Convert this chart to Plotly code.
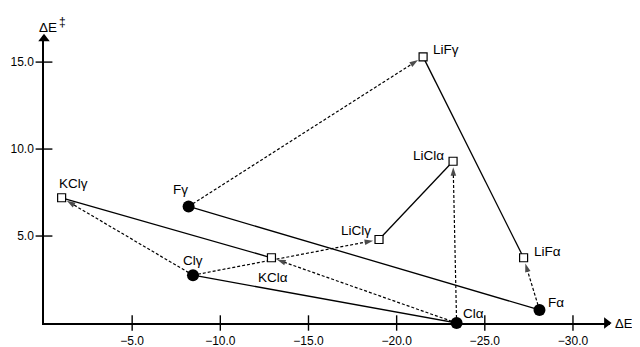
import plotly.graph_objects as go

# ---- data ----
names = ["KClγ", "Fγ", "Clγ", "KClα", "LiClγ", "LiClα", "LiFγ", "LiFα", "Fα", "Clα"]
de = [-1.0, -8.2, -8.45, -12.9, -19.0, -23.2, -21.5, -27.2, -28.1, -23.4]
de_ts = [7.2, 6.7, 2.75, 3.75, 4.8, 9.3, 15.3, 3.75, 0.75, 0.0]
kind = ["sq", "dot", "dot", "sq", "sq", "sq", "sq", "sq", "dot", "dot"]

solid_links = [("Fγ", "Fα"), ("KClγ", "KClα"), ("Clγ", "Clα"), ("LiClγ", "LiClα"), ("LiFγ", "LiFα")]
dashed_links = [("Clγ", "KClγ"), ("Clα", "KClα"), ("Clγ", "LiClγ"), ("Clα", "LiClα"),
                ("Fγ", "LiFγ"), ("Fα", "LiFα")]

x_ticks = [-5, -10, -15, -20, -25, -30]
y_ticks = [5, 10, 15]
X_END, Y_END = -32.1, 16.5

# label offsets (px) per point: (xshift, yshift, xanchor)
label_pos = {
    "KClγ": (-5, 14, "left"), "Fγ": (-8, 17, "center"), "Clγ": (0, 15, "center"),
    "KClα": (2, -20, "center"), "LiClγ": (-6, 9, "right"), "LiClα": (-7, 6, "right"),
    "LiFγ": (8, 7, "left"), "LiFα": (8, 6, "left"), "Fα": (7, 7, "left"), "Clα": (4, 10, "left"),
}

idx = {n: i for i, n in enumerate(names)}
FONT = "Liberation Sans, Arial, sans-serif"

fig = go.Figure()

for a, b in solid_links:
    i, j = idx[a], idx[b]
    fig.add_trace(go.Scatter(x=[de[i], de[j]], y=[de_ts[i], de_ts[j]], mode="lines",
                             line=dict(color="black", width=1.3), hoverinfo="skip",
                             showlegend=False))

for a, b in dashed_links:
    i, j = idx[a], idx[b]
    fig.add_trace(go.Scatter(x=[de[i], de[j]], y=[de_ts[i], de_ts[j]], mode="lines+markers",
                             line=dict(color="black", width=1.2, dash="3px,2px"),
                             marker=dict(symbol=["circle", "arrow"], size=[0, 9],
                                         angleref="previous", standoff=[0, 6],
                                         color="black", line=dict(width=0)),
                             hoverinfo="skip", showlegend=False))

# axis arrowheads
fig.add_trace(go.Scatter(x=[X_END * 0.994], y=[0], mode="markers",
                         marker=dict(symbol="triangle-right", size=10, color="black"),
                         cliponaxis=False, hoverinfo="skip", showlegend=False))
fig.add_trace(go.Scatter(x=[0], y=[Y_END * 0.99], mode="markers",
                         marker=dict(symbol="triangle-up", size=10, color="black"),
                         cliponaxis=False, hoverinfo="skip", showlegend=False))

# tick marks crossing the axes
fig.add_trace(go.Scatter(x=x_ticks, y=[0] * len(x_ticks), mode="markers",
                         marker=dict(symbol="line-ns-open", size=11, color="black",
                                     line=dict(color="black", width=1.4)),
                         cliponaxis=False, hoverinfo="skip", showlegend=False))
fig.add_trace(go.Scatter(x=[0] * len(y_ticks), y=y_ticks, mode="markers",
                         marker=dict(symbol="line-ew-open", size=12, color="black",
                                     line=dict(color="black", width=1.4)),
                         cliponaxis=False, hoverinfo="skip", showlegend=False))

# points
dots = [i for i, k in enumerate(kind) if k == "dot"]
sqs = [i for i, k in enumerate(kind) if k == "sq"]
fig.add_trace(go.Scatter(x=[de[i] for i in dots], y=[de_ts[i] for i in dots], mode="markers",
                         marker=dict(symbol="circle", size=12, color="black"),
                         cliponaxis=False, showlegend=False))
fig.add_trace(go.Scatter(x=[de[i] for i in sqs], y=[de_ts[i] for i in sqs], mode="markers",
                         marker=dict(symbol="square", size=8, color="white",
                                     line=dict(color="black", width=1.2)),
                         cliponaxis=False, showlegend=False))

# point labels
for n, (xs, ys, xa) in label_pos.items():
    i = idx[n]
    fig.add_annotation(x=de[i], y=de_ts[i], text=n, showarrow=False, xanchor=xa, yanchor="middle",
                       xshift=xs, yshift=ys, font=dict(family=FONT, size=13.5, color="black"))

# axis titles
fig.add_annotation(x=1, y=0, xref="paper", yref="y", text="ΔE", showarrow=False, xanchor="left",
                   xshift=3, font=dict(family=FONT, size=13, color="black"))
fig.add_annotation(x=0, y=1, xref="paper", yref="paper", text="ΔE", showarrow=False,
                   xanchor="left", yanchor="middle", xshift=-7, yshift=9,
                   font=dict(family=FONT, size=13.5, color="black"))
fig.add_annotation(x=0, y=1, xref="paper", yref="paper", text="‡", showarrow=False,
                   xanchor="left", yanchor="middle", xshift=13, yshift=14,
                   font=dict(family=FONT, size=12, color="black"))

# page body adds an 8px offset, so the figure is 8px smaller in each direction
fig.update_layout(
    width=632, height=339, margin=dict(l=36, r=30, t=28, b=24, autoexpand=False),
    plot_bgcolor="white", paper_bgcolor="white",
    xaxis=dict(range=[0, X_END], showgrid=False, zeroline=False, showline=True,
               linecolor="black", linewidth=1.5, automargin=False,
               tickvals=x_ticks, tickformat=".1f", ticks="outside", ticklen=6, tickcolor="rgba(0,0,0,0)",
               tickfont=dict(family=FONT, size=12, color="black")),
    yaxis=dict(range=[0, Y_END], showgrid=False, zeroline=False, showline=True,
               linecolor="black", linewidth=1.5, automargin=False,
               tickvals=y_ticks, tickformat=".1f", ticks="outside", ticklen=6, tickcolor="rgba(0,0,0,0)",
               tickfont=dict(family=FONT, size=12, color="black")),
)

fig.write_html("out.html")
